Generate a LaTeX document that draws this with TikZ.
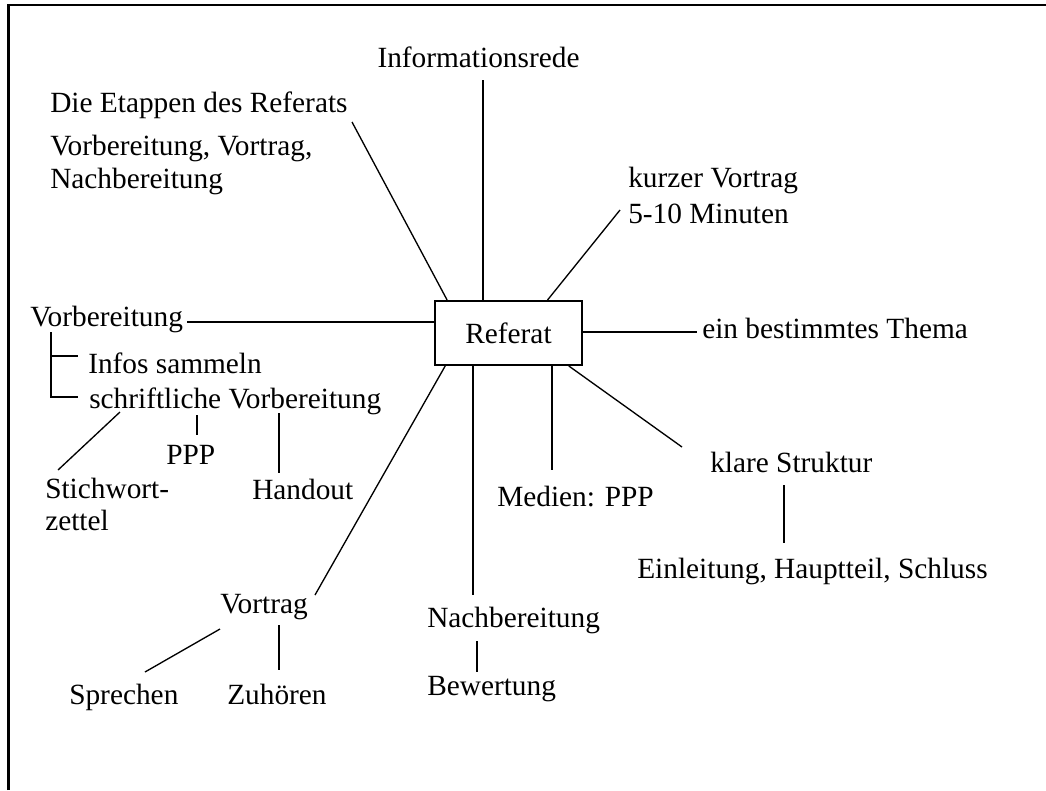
\documentclass[tikz,border=0pt]{standalone}
\usepackage{fontspec}
\setmainfont{Liberation Serif}
\usetikzlibrary{calc}

\begin{document}
\begin{tikzpicture}[
    x=0.75pt, y=-0.75pt,
    every node/.style={font=\fontsize{22}{26}\selectfont},
    lbl/.style={inner sep=0pt, anchor=base west},
    clbl/.style={inner sep=0pt, anchor=base},
    link/.style={line width=1pt},
    frame/.style={line width=1.6pt},
    topic/.style={draw, line width=1.5pt, minimum width=110.25pt, minimum height=48pt, inner sep=0pt}
]
\useasboundingbox (0,0) rectangle (1046,790);

% === FRAME ===
\draw[frame] (8.5,790) -- (8.5,5) -- (1046,5);

% === CENTRE ===
\node[topic] (ref) at (508.5,333) {Referat};

% === LABELS ===
\node[clbl] (info) at (478.5,67) {Informationsrede};
\node[lbl] (etap) at (50,112) {Die Etappen des Referats};
\node[lbl] (etapA) at (50,155) {Vorbereitung, Vortrag,};
\node[lbl] (etapB) at (50,188) {Nachbereitung};
\node[lbl] (kurz) at (628,187) {kurzer Vortrag};
\node[lbl] (kurzB) at (628,223) {5-10 Minuten};
\node[lbl] (thema) at (702,338) {ein bestimmtes Thema};
\node[lbl] (vorb) at (30,326) {Vorbereitung};
\node[lbl] (infos) at (88,373) {Infos sammeln};
\node[lbl] (schrift) at (89,408) {schriftliche Vorbereitung};
\node[lbl] (ppp) at (166,464) {PPP};
\node[lbl] (hand) at (252,499) {Handout};
\node[lbl] (stich) at (45,498) {Stichwort-};
\node[lbl] (stichB) at (45,530) {zettel};
\node[lbl] (vortrag) at (220,613) {Vortrag};
\node[lbl] (sprech) at (69,704) {Sprechen};
\node[lbl] (zuh) at (227,704) {Zuhören};
\node[lbl] (nach) at (427,627) {Nachbereitung};
\node[lbl] (bew) at (427,695) {Bewertung};
\node[lbl] (medien) at (497,506) {Medien: PPP};
\node[lbl] (klar) at (710,472) {klare Struktur};
\node[lbl] (einl) at (637,578) {Einleitung, Hauptteil, Schluss};

% === LINE ENDS ===
\coordinate (etapEnd) at (352,122);
\coordinate (infoEnd) at (483,80);
\coordinate (kurzEnd) at (620,210);
\coordinate (themaEnd) at (697,332);
\coordinate (vorbEnd) at (187,322);
\coordinate (vortragEnd) at (315,595);
\coordinate (nachEnd) at (473,595);
\coordinate (medienEnd) at (552,470);
\coordinate (klarEnd) at (682,447);
\coordinate (treeTop) at (51,332);
\coordinate (treeMid) at (78,356);
\coordinate (treeBot) at (78,397);
\coordinate (stichTop) at (120,412);
\coordinate (stichEnd) at (58,470);
\coordinate (pppTop) at (197,415);
\coordinate (pppEnd) at (197,435);
\coordinate (handTop) at (279,413);
\coordinate (handEnd) at (279,473);
\coordinate (sprechTop) at (220,629);
\coordinate (sprechEnd) at (145,672);
\coordinate (zuhTop) at (279,625);
\coordinate (zuhEnd) at (279,670);
\coordinate (bewTop) at (477,641);
\coordinate (bewEnd) at (477,672);
\coordinate (einlTop) at (784,485);
\coordinate (einlEnd) at (784,543);

% === SPOKES ===
\draw[link] ($(ref.north west)!0.088!(ref.north east)$) -- (etapEnd);
\draw[link] (ref.north -| infoEnd) -- (infoEnd);
\draw[link] ($(ref.north west)!0.762!(ref.north east)$) -- (kurzEnd);
\draw[link] (ref.east |- themaEnd) -- (themaEnd);
\draw[link] (ref.west |- vorbEnd) -- (vorbEnd);
\draw[link] ($(ref.south west)!0.075!(ref.south east)$) -- (vortragEnd);
\draw[link] (ref.south -| nachEnd) -- (nachEnd);
\draw[link] (ref.south -| medienEnd) -- (medienEnd);
\draw[link] ($(ref.south west)!0.905!(ref.south east)$) -- (klarEnd);

% === BRANCHES ===
\draw[link] (treeTop) |- (treeBot);
\draw[link] (treeTop |- treeMid) -- (treeMid);
\draw[link] (stichTop) -- (stichEnd);
\draw[link] (pppTop) -- (pppEnd);
\draw[link] (handTop) -- (handEnd);
\draw[link] (sprechTop) -- (sprechEnd);
\draw[link] (zuhTop) -- (zuhEnd);
\draw[link] (bewTop) -- (bewEnd);
\draw[link] (einlTop) -- (einlEnd);

\end{tikzpicture}
\end{document}
